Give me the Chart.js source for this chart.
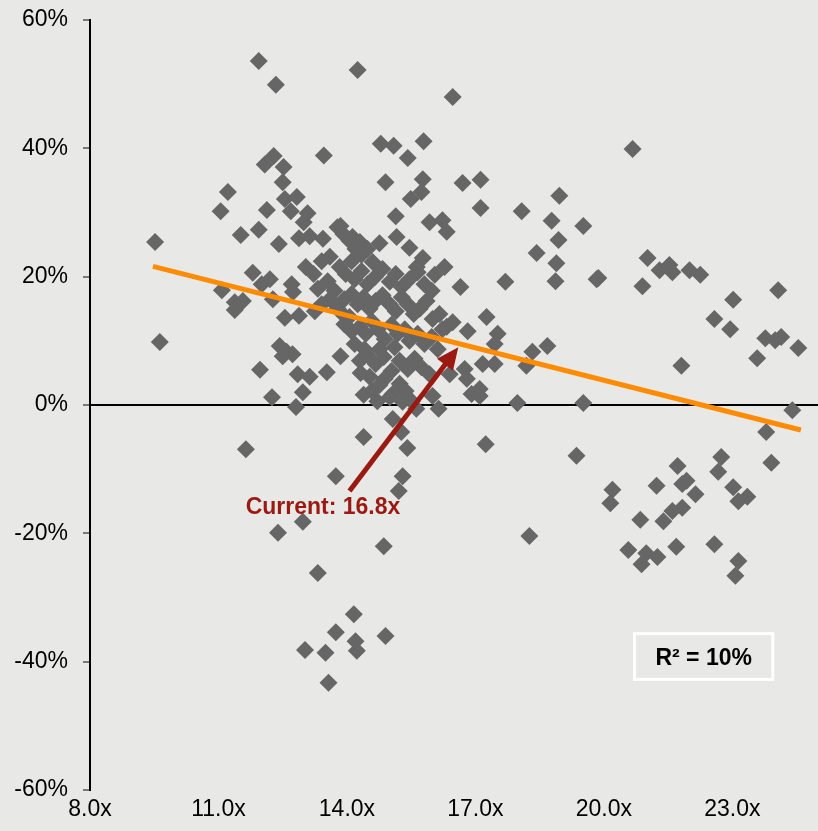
<!DOCTYPE html>
<html>
<head>
<meta charset="utf-8">
<script src="https://cdn.jsdelivr.net/npm/chart.js@4.4.1/dist/chart.umd.min.js"></script>
<style>
  html, body { margin: 0; padding: 0; background: #e8e8e6; }
  #wrap { width: 818px; height: 831px; position: relative; }
</style>
</head>
<body>
<div id="wrap"><canvas id="grafico"></canvas></div>
<script>
// P/E multiple (x) vs forward return (%)
const multiplos = [
  9.52, 9.63, 11.05, 11.22, 11.52, 11.08, 11.38, 11.57, 11.38, 11.80,
  12.01, 12.20, 12.27, 12.71, 12.74, 12.55, 12.88, 11.97, 12.25, 12.81,
  11.64, 13.74, 12.43, 12.59, 12.73, 12.50, 12.85, 13.13, 12.97, 13.53,
  13.85, 14.39, 14.32, 14.39, 13.94, 11.94, 12.34, 14.25, 13.46, 12.29,
  12.08, 12.52, 12.50, 12.55, 12.83, 12.69, 13.08, 12.99, 12.13, 12.41,
  12.88, 13.13, 13.44, 13.85, 14.13, 14.30, 11.94, 12.39, 12.97, 14.86,
  13.32, 18.26, 14.16, 13.74, 14.20, 14.23, 14.90, 13.02, 13.50, 13.57,
  15.21, 15.30, 15.41, 15.27, 15.07, 15.62, 14.71, 15.07, 15.30, 16.14,
  16.00, 17.24, 19.36, 17.98, 19.52, 16.91, 17.10, 17.10, 16.75, 16.80,
  16.40, 17.17, 17.45, 18.19, 18.33, 18.68, 17.26, 17.52, 17.45, 16.82,
  16.47, 16.33, 15.65, 16.65, 17.70, 18.87, 19.83, 16.47, 14.79, 15.09,
  15.42, 15.79, 14.90, 15.77, 15.74, 15.49, 16.70, 17.12, 17.12, 15.14,
  15.93, 16.23, 16.33, 15.16, 14.76, 15.46, 15.77, 14.60, 15.63, 18.08,
  18.96, 18.78, 19.52, 18.94, 18.43, 18.89, 20.67, 21.02, 21.30, 21.53,
  21.60, 22.00, 22.25, 20.90, 19.87, 23.02, 22.58, 22.95, 24.07, 23.77,
  24.00, 24.14, 24.54, 23.58, 21.81, 24.40, 23.79, 23.91, 22.74, 22.67,
  23.02, 23.35, 23.14, 21.72, 21.93, 21.83, 22.14, 21.23, 20.20, 20.15,
  21.83, 21.60, 21.39, 20.85, 20.57, 20.99, 21.25, 20.88, 21.69, 22.58,
  23.14, 23.07,
  13.78, 13.92, 14.06, 14.20, 14.34, 14.48, 14.11, 13.60, 13.83, 13.97,
  14.18, 14.34, 14.48, 14.65, 14.83, 15.00, 15.14, 15.28, 15.46, 15.81,
  15.98, 13.04, 13.22, 13.41, 13.32, 13.55, 13.71, 13.94, 14.11, 14.25,
  14.39, 14.53, 14.67, 14.83, 15.00, 15.14, 15.28, 15.42, 15.56, 15.70,
  15.86, 16.00, 16.16, 14.06, 13.78, 13.60, 13.41, 13.25, 13.94, 14.11,
  14.30, 14.44, 14.58, 14.72, 14.88, 15.04, 15.18, 15.35, 15.46, 15.65,
  15.81, 15.98, 16.12, 16.23, 14.18, 14.41, 14.76, 15.11, 14.30, 14.48,
  14.67, 14.86, 15.04, 15.23, 15.42, 15.58, 15.74, 15.93, 14.53, 14.88,
  15.23, 14.58, 14.76, 15.00, 15.37, 15.51, 16.28, 16.05
];

const retornos = [
  25.4, 9.8, 30.2, 33.2, 26.5, 17.9, 16.0, 16.2, 14.8, 20.6,
  18.8, 19.6, 16.5, 18.8, 17.6, 13.6, 13.9, 5.5, 1.2, -0.3,
  -6.9, -11.1, 9.2, 8.3, 7.9, 7.6, 4.8, 4.4, 2.0, 5.1,
  7.6, -5.0, 5.0, 1.6, 13.9, 53.6, 49.9, 52.2, 38.9, 38.8,
  37.5, 37.1, 34.7, 32.1, 32.4, 30.2, 29.9, 28.5, 30.4, 25.1,
  26.0, 26.3, 25.9, 27.9, 26.2, 25.4, 27.3, -19.9, -18.2, -22.0,
  -26.2, -20.4, -32.6, -35.4, -36.8, -38.3, -36.0, -38.2, -38.6, -43.3,
  -13.4, -11.1, -6.7, -4.2, -2.2, -0.6, 0.6, 1.7, 0.5, -0.6,
  1.4, -6.1, -7.9, 0.3, 0.3, 1.7, 1.4, 2.5, 5.6, 4.1,
  4.8, 6.4, 6.4, 6.1, 8.3, 9.2, 13.7, 11.1, 9.5, 11.5,
  12.9, 12.2, 20.7, 18.4, 19.2, 19.3, 19.6, 48.0, 40.7, 40.4,
  38.5, 41.1, 34.7, 35.2, 33.2, 32.1, 34.6, 35.1, 30.7, 29.4,
  28.5, 28.8, 27.0, 26.2, 25.2, 24.5, 22.9, 22.3, 21.5, 30.2,
  32.6, 28.7, 27.9, 25.7, 23.7, 22.1, 39.9, 22.9, 21.0, 21.8,
  20.7, 21.0, 20.3, 18.5, 19.8, 16.4, 13.4, 11.8, 17.9, 10.4,
  10.1, 10.6, 8.9, 7.3, 6.1, -0.8, -4.2, -9.0, -8.1, -10.4,
  -12.8, -14.3, -15.0, -9.5, -11.8, -12.3, -13.9, -12.6, -13.2, -15.3,
  -16.0, -16.5, -18.1, -17.9, -22.6, -23.1, -23.7, -24.8, -22.1, -21.7,
  -24.3, -26.6,
  27.7, 26.6, 25.6, 24.3, 23.4, 24.3, 22.4, 23.1, 21.5, 20.4,
  19.6, 20.9, 18.8, 19.9, 21.2, 19.2, 20.4, 18.4, 19.6, 18.8,
  17.8, 21.5, 20.4, 22.4, 18.1, 19.3, 17.8, 16.5, 17.3, 15.7,
  16.8, 15.0, 16.2, 17.1, 15.7, 14.6, 16.8, 15.7, 14.2, 15.0,
  16.2, 13.4, 14.2, 13.7, 15.0, 16.5, 15.7, 14.6, 12.6, 11.5,
  12.2, 11.1, 13.1, 11.8, 10.3, 12.5, 11.1, 11.8, 10.0, 11.1,
  9.5, 10.6, 8.7, 11.8, 9.5, 8.7, 8.7, 9.0, 6.9, 7.8,
  6.4, 7.5, 5.3, 6.9, 5.6, 7.2, 5.9, 4.8, 4.4, 4.1,
  3.3, 2.2, 3.1, 1.2, 2.2, 0.6, 21.5, 20.3
];

// linha de tendencia (extremos)
const tendenciaX = [9.47, 24.6];
const tendenciaY = [21.6, -3.9];

// marcas dos eixos
const ticksX = [8, 11, 14, 17, 20, 23];
const ticksY = [-60, -40, -20, 0, 20, 40, 60];

const multiploAtual = 16.8;
const r2 = 10;

const fonte = "'Liberation Sans', Arial, sans-serif";
const corFundo = '#e8e8e6';
const corSeta = '#9a1a12';

const anotacoes = {
  id: 'anotacoes',
  beforeDraw(chart) {
    const ctx = chart.ctx;
    ctx.save();
    ctx.fillStyle = corFundo;
    ctx.fillRect(0, 0, chart.width, chart.height);
    ctx.restore();
  },
  afterDatasetsDraw(chart) {
    const { ctx, scales: { x, y } } = chart;
    ctx.save();

    // seta "Current"
    const x0 = x.getPixelForValue(14.06), y0 = y.getPixelForValue(-13.4);
    const x1 = x.getPixelForValue(16.6), y1 = y.getPixelForValue(9.0);
    const ang = Math.atan2(y1 - y0, x1 - x0);
    const compCabeca = 22, largCabeca = 10;
    const bx = x1 - compCabeca * Math.cos(ang), by = y1 - compCabeca * Math.sin(ang);
    ctx.strokeStyle = corSeta;
    ctx.fillStyle = corSeta;
    ctx.lineWidth = 5;
    ctx.beginPath();
    ctx.moveTo(x0, y0);
    ctx.lineTo(bx + 4 * Math.cos(ang), by + 4 * Math.sin(ang));
    ctx.stroke();
    ctx.beginPath();
    ctx.moveTo(x1, y1);
    ctx.lineTo(bx + largCabeca * Math.sin(ang), by - largCabeca * Math.cos(ang));
    ctx.lineTo(bx - largCabeca * Math.sin(ang), by + largCabeca * Math.cos(ang));
    ctx.closePath();
    ctx.fill();

    ctx.font = 'bold 23px ' + fonte;
    ctx.textAlign = 'center';
    ctx.textBaseline = 'alphabetic';
    ctx.fillText(`Current: ${multiploAtual.toFixed(1)}x`, x.getPixelForValue(13.44), y.getPixelForValue(-17.0));

    // caixa R²
    const rx0 = x.getPixelForValue(20.68), rx1 = x.getPixelForValue(23.98);
    const ry0 = y.getPixelForValue(-35.4), ry1 = y.getPixelForValue(-43.0);
    ctx.strokeStyle = '#ffffff';
    ctx.lineWidth = 3;
    ctx.strokeRect(rx0 + 1.5, ry0 + 1.5, rx1 - rx0 - 3, ry1 - ry0 - 3);
    ctx.fillStyle = '#000';
    ctx.fillText(`R² = ${r2}%`, (rx0 + rx1) / 2, y.getPixelForValue(-40.5));

    ctx.restore();
  }
};

const ctx = document.getElementById('grafico').getContext('2d');
new Chart(ctx, {
  data: {
    datasets: [
      {
        type: 'line',
        data: tendenciaX.map((v, i) => ({ x: v, y: tendenciaY[i] })),
        borderColor: '#ff8c00',
        borderWidth: 5,
        pointRadius: 0,
        fill: false,
        order: 0
      },
      {
        type: 'scatter',
        data: multiplos.map((v, i) => ({ x: v, y: retornos[i] })),
        pointStyle: 'rectRot',
        pointRadius: 9,
        pointBackgroundColor: '#666666',
        pointBorderWidth: 0,
        pointBorderColor: '#666666',
        order: 1
      }
    ]
  },
  options: {
    responsive: true,
    maintainAspectRatio: false,
    animation: false,
    layout: { autoPadding: false, padding: { top: 20, right: 0, bottom: 0, left: 0 } },
    plugins: {
      legend: { display: false },
      tooltip: { enabled: false }
    },
    scales: {
      x: {
        type: 'linear',
        min: 8,
        max: 25,
        grid: { display: false },
        border: { display: false },
        afterBuildTicks: s => { s.ticks = ticksX.map(v => ({ value: v })); },
        ticks: {
          autoSkip: false,
          maxRotation: 0,
          padding: -2,
          color: '#000',
          font: { family: fonte, size: 23 },
          callback: v => v.toFixed(1) + 'x'
        },
        afterFit: s => { s.height = 41; }
      },
      y: {
        min: -60,
        max: 60,
        afterBuildTicks: s => { s.ticks = ticksY.map(v => ({ value: v })); },
        grid: {
          color: c => (c.tick && c.tick.value === 0 ? '#000' : 'rgba(0,0,0,0)'),
          lineWidth: 2,
          tickColor: '#555',
          tickLength: 7,
          tickWidth: 1.5
        },
        border: { display: true, color: '#000', width: 2 },
        ticks: {
          padding: 15,
          color: '#000',
          font: { family: fonte, size: 23 },
          callback: v => v + '%'
        },
        afterFit: s => { s.width = 90; s.paddingTop = 0; s.paddingBottom = 0; }
      }
    }
  },
  plugins: [anotacoes]
});
</script>
</body>
</html>
